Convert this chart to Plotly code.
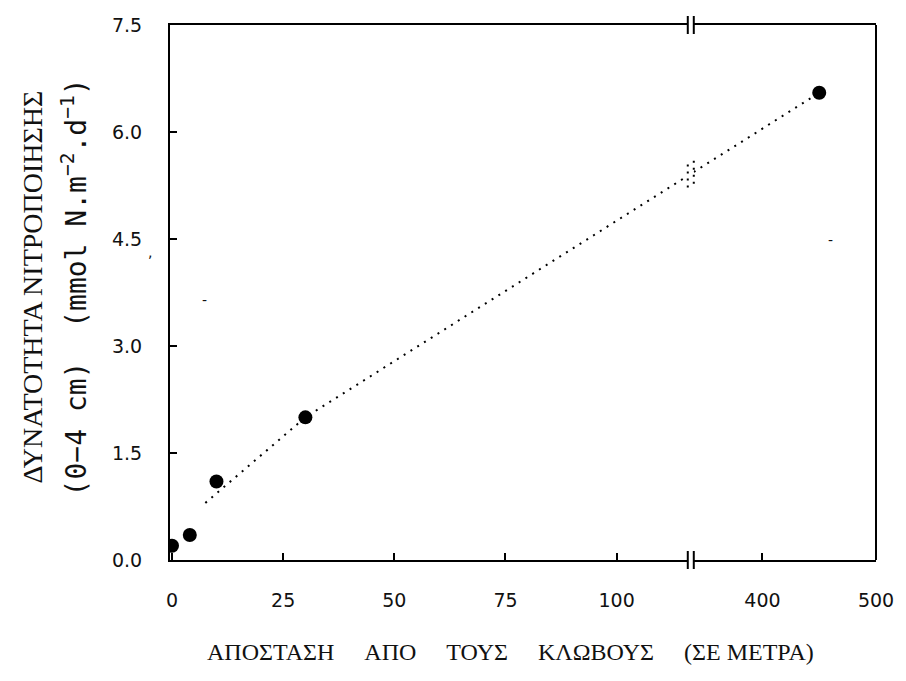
import plotly.graph_objects as go

# ---- data ----
dist_near = [0, 4, 10, 30]           # m (left axis segment)
nitr_near = [0.2, 0.35, 1.1, 2.0]
dist_far = [450]                      # m (right axis segment)
nitr_far = [6.55]
trend_x = [7.5, 30, 450]              # dotted trend line
trend_y = [0.8, 2.0, 6.55]

y_ticks = [0.0, 1.5, 3.0, 4.5, 6.0, 7.5]
x1_ticks = [0, 25, 50, 75, 100]
x2_ticks = [400, 500]

# ---- layout geometry ----
W, H = 906, 681
ML, MR, MT, MB = 170, 27, 25, 121
PW, PH = W - ML - MR, H - MT - MB
R1, D1 = [-0.45, 116.0], [0.0, 0.7334]
R2, D2 = [339.5, 500.0], [0.7419, 1.0]
RY = [0.0, 7.5]

def xpix(v, R, D):
    return ML + PW * (D[0] + (D[1] - D[0]) * (v - R[0]) / (R[1] - R[0]))

def ypix(v):
    return MT + PH * (1 - (v - RY[0]) / (RY[1] - RY[0]))

def yval(p):
    return RY[0] + (1 - (p - MT) / PH) * (RY[1] - RY[0])

# trend line: straight in the drawing, crossing the axis break
pa = (xpix(trend_x[1], R1, D1), ypix(trend_y[1]))
pb = (xpix(trend_x[2], R2, D2), ypix(trend_y[2]))
def y_at(px):
    return pa[1] + (pb[1] - pa[1]) * (px - pa[0]) / (pb[0] - pa[0])
brk_l = ML + PW * D1[1]
brk_r = ML + PW * D2[0]
yl = yval(y_at(brk_l))
yr = yval(y_at(brk_r))

fig = go.Figure()
dot = dict(color="black", width=2, dash="2px,6px")
fig.add_trace(go.Scatter(x=trend_x[:2] + [R1[1]], y=trend_y[:2] + [yl], mode="lines",
                         line=dot, xaxis="x", yaxis="y", showlegend=False))
fig.add_trace(go.Scatter(x=[R2[0], trend_x[2]], y=[yr, trend_y[2]], mode="lines",
                         line=dot, xaxis="x2", yaxis="y", showlegend=False))
mk = dict(color="black", size=14, symbol="circle")
fig.add_trace(go.Scatter(x=dist_near, y=nitr_near, mode="markers", marker=mk,
                         xaxis="x", yaxis="y", showlegend=False))
fig.add_trace(go.Scatter(x=dist_far, y=nitr_far, mode="markers", marker=mk,
                         xaxis="x2", yaxis="y", showlegend=False))

tickfont = dict(family="DejaVu Sans", size=19, color="#111")
axcommon = dict(showline=True, linecolor="black", linewidth=2, mirror=True,
                ticks="inside", ticklen=7, tickwidth=2, tickcolor="black",
                showgrid=False, zeroline=False, tickfont=tickfont,
                ticklabelstandoff=22)
fig.update_layout(
    width=W, height=H, margin=dict(l=ML, r=MR, t=MT, b=MB),
    paper_bgcolor="white", plot_bgcolor="white",
    xaxis=dict(domain=D1, range=R1, tickvals=x1_ticks, anchor="y", **axcommon),
    xaxis2=dict(domain=D2, range=R2, tickvals=x2_ticks, anchor="y", **axcommon),
    yaxis=dict(range=RY, tickvals=y_ticks, tickformat=".1f", anchor="x",
               **{**axcommon, "mirror": False}),
)

shapes = [dict(type="line", xref="paper", yref="paper", x0=1, x1=1, y0=0, y1=1,
               line=dict(color="black", width=2))]
bh = 9 / PH
for xp in (D1[1], D2[0]):
    for yp in (0, 1):
        shapes.append(dict(type="line", xref="paper", yref="paper", x0=xp, x1=xp,
                           y0=yp - bh, y1=yp + bh, line=dict(color="black", width=2)))
    # break symbol on the dotted trend line
    yy = (H - MB - y_at(ML + PW * xp)) / PH
    shapes.append(dict(type="line", xref="paper", yref="paper", x0=xp, x1=xp,
                       y0=yy - 0.022, y1=yy + 0.022,
                       line=dict(color="black", width=2, dash="2px,5px")))
fig.update_layout(shapes=shapes)

def py(p):
    return (H - MB - p) / PH
def px_(p):
    return (p - ML) / PW

sp = "\u00a0" * 5
annots = [
    dict(text="ΔΥΝΑΤΟΤΗΤΑ ΝΙΤΡΟΠΟΙΗΣΗΣ", x=px_(31), y=py(287), textangle=-90,
         font=dict(family="Liberation Serif", size=28, color="#111")),
    dict(text="(0−4\u00a0cm)\u00a0\u00a0(mmol\u00a0N.m<sup>−2</sup>.d<sup>−1</sup>)",
         x=px_(74), y=py(287), textangle=-90,
         font=dict(family="DejaVu Sans Mono", size=28, color="#111")),
    dict(text="ΑΠΟΣΤΑΣΗ" + sp + "ΑΠΟ" + sp + "ΤΟΥΣ" + sp + "ΚΛΩΒΟΥΣ" + sp
         + "(ΣΕ\u00a0ΜΕΤΡΑ)", x=px_(512), y=py(652),
         font=dict(family="Liberation Serif", size=24, color="#111")),
    # scanning specks visible in the original figure
    dict(text="-", x=px_(205), y=py(300), font=dict(family="DejaVu Sans", size=14, color="#111")),
    dict(text="-", x=px_(833), y=py(240), font=dict(family="DejaVu Sans", size=14, color="#111")),
    dict(text=",", x=px_(150), y=py(252), font=dict(family="DejaVu Sans", size=14, color="#111")),
]
for a in annots:
    a.update(xref="paper", yref="paper", showarrow=False, xanchor="center", yanchor="middle")
fig.update_layout(annotations=annots)

fig.write_html("out.html")
